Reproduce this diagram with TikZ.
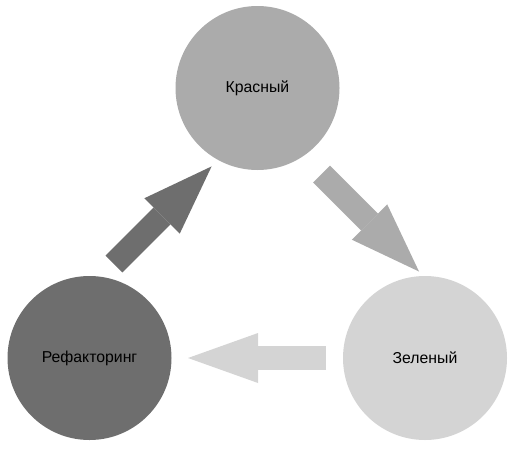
\documentclass[tikz,border=0pt]{standalone}
\usepackage{fontspec}
\setmainfont{Liberation Sans}
\usetikzlibrary{arrows.meta}
\definecolor{krasgray}{gray}{0.67}
\definecolor{refgray}{gray}{0.43}
\definecolor{zelgray}{gray}{0.83}
\begin{document}
\begin{tikzpicture}[x=1pt,y=-1pt,
    phase/.style={circle,minimum size=164pt,inner sep=0pt,font=\fontsize{15.8}{19}\selectfont},
    bigarrow/.style={line width=24pt,-{Triangle[length=70pt,width=50pt,line width=0pt]}}]
    \useasboundingbox (0,0) rectangle (518,450);
    \node[phase,fill=krasgray](kras) at (257.5,88) {Красный};
    \node[phase,fill=refgray](ref) at (89.5,358) {Рефакторинг};
    \node[phase,fill=zelgray](zel) at (425,358) {Зеленый};
    \coordinate (rs) at (114,264);
    \coordinate (re) at (211.6,166.4);
    \coordinate (ks) at (321.5,174);
    \coordinate (ke) at (419,271.5);
    \coordinate (zs) at (326,358);
    \coordinate (ze) at (188,358);
    \draw[bigarrow,refgray] (rs)--(re);
    \draw[bigarrow,krasgray] (ks)--(ke);
    \draw[bigarrow,zelgray] (zs)--(ze);
\end{tikzpicture}
\end{document}
